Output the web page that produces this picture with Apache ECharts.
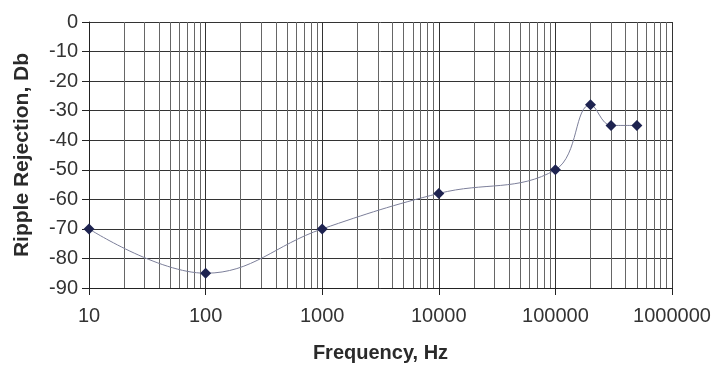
<!DOCTYPE html>
<html><head><meta charset="utf-8">
<script src="https://cdn.jsdelivr.net/npm/echarts@6/dist/echarts.min.js"></script>
<style>html,body{margin:0;padding:0;background:#fff}#c{width:720px;height:372px}</style>
</head><body><div id="c"></div>
<script>
const frequencies = [10, 100, 1000, 10000, 100000, 200000, 300000, 500000];
const rejection = [-70, -85, -70, -58, -50, -28, -35, -35];
const yTicks = [0, -10, -20, -30, -40, -50, -60, -70, -80, -90];

const minorGrid = [];
for (let d = 10; d < 1000000; d *= 10) {
  for (let k = 2; k <= 9; k++) minorGrid.push(d * k);
}

const chart = echarts.init(document.getElementById('c'));
chart.setOption({
  animation: false,
  grid: {left: 89, right: 48, top: 22, bottom: 84},
  xAxis: {
    type: 'log', logBase: 10, min: 10, max: 1000000,
    name: 'Frequency, Hz', nameLocation: 'middle', nameGap: 55,
    nameTextStyle: {fontFamily: 'Liberation Sans', fontWeight: 'bold', fontSize: 20, color: '#2a2a2a'},
    axisLine: {show: true, onZero: false, lineStyle: {color: '#222', width: 1}},
    axisTick: {show: true, length: 7, lineStyle: {color: '#222'}},
    axisLabel: {fontFamily: 'Liberation Sans', fontSize: 20, color: '#333', margin: 18,
      formatter: v => String(Math.round(v))},
    splitLine: {show: true, lineStyle: {color: '#333', width: 1}}
  },
  yAxis: {
    type: 'value', min: -90, max: 0, interval: 10,
    name: 'Ripple Rejection, Db', nameLocation: 'middle', nameGap: 56, nameRotate: 90,
    nameTextStyle: {fontFamily: 'Liberation Sans', fontWeight: 'bold', fontSize: 21, color: '#2a2a2a'},
    axisLine: {show: true, lineStyle: {color: '#222', width: 1}},
    axisTick: {show: true, length: 7, lineStyle: {color: '#222'}},
    axisLabel: {fontFamily: 'Liberation Sans', fontSize: 20, color: '#333', margin: 11},
    splitLine: {show: true, lineStyle: {color: '#333', width: 1}}
  },
  series: [{
    type: 'line',
    data: frequencies.map((f, i) => [f, rejection[i]]),
    smooth: 0.4,
    symbol: 'diamond', symbolSize: 11,
    itemStyle: {color: '#1e2350'},
    lineStyle: {color: '#7c7f9a', width: 1},
    markLine: {
      silent: true, symbol: 'none', label: {show: false},
      lineStyle: {color: '#666', width: 1, type: 'solid'},
      data: minorGrid.map(v => ({xAxis: v}))
    },
    z: 5
  }]
});
</script></body></html>
